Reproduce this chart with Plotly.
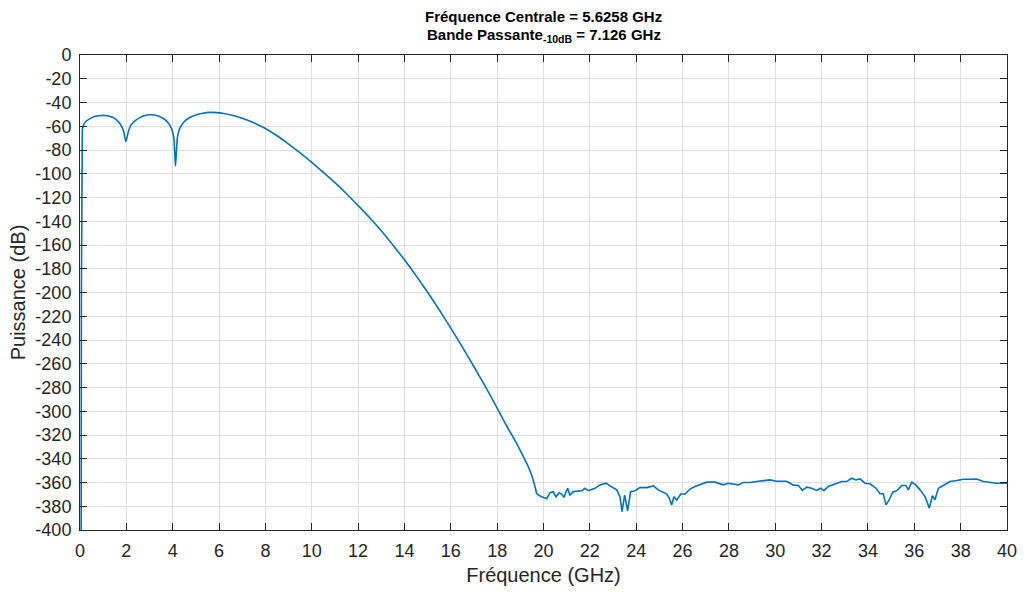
import plotly.graph_objects as go

# Frequency (GHz) and power (dB)
# rising edge at the very start of the band
freq_start = [0.04, 0.05, 0.06, 0.08, 0.1]
power_start = [-400, -400, -200, -70, -63]

# main lobe (smooth part)
freq_main = [0.1, 0.15, 0.25, 0.4, 0.6, 0.8, 1.0, 1.2, 1.4, 1.6, 1.75,
             1.88, 1.98, 2.08, 2.2, 2.4, 2.6, 2.8, 3.0, 3.2, 3.4, 3.6, 3.8, 3.95, 4.05, 4.12,
             4.2, 4.3, 4.5, 4.7, 5.0, 5.3, 5.6, 5.9, 6.2, 6.6, 7.0, 7.5, 8.0, 8.5, 9.0, 9.5,
             10.0, 10.5, 11.0, 11.5, 12.0, 12.5, 13.0, 13.5, 14.0, 14.5, 15.0, 15.5, 16.0,
             16.5, 17.0, 17.5, 18.0, 18.4, 18.84, 19.1, 19.34, 19.5, 19.6, 19.71]
power_main = [-63, -59, -56, -54, -52, -51.2, -50.8, -51.2, -52.5, -55, -58.5,
              -64, -73, -65, -59, -55, -52.5, -51, -50.3, -50.5, -51.5, -53.5, -57, -62, -70, -93.5,
              -70, -62, -56, -53, -50.5, -49, -48.3, -48.5, -49.3, -51, -53.2, -57, -61.9, -68, -75, -82.5,
              -90.5, -98.8, -107.5, -116.8, -126.8, -137, -148, -160, -172.5, -185.8, -199.8, -214.5, -230,
              -246, -262.5, -279.5, -297.3, -312, -327, -337, -346.5, -354.5, -361, -369.7]

# noise floor
freq_floor = [19.71, 19.92, 20.14, 20.28, 20.42, 20.54, 20.68, 20.78, 20.88, 21.04, 21.14, 21.29,
              21.65, 21.79, 21.93, 22.22, 22.44, 22.70, 22.87, 23.16, 23.30, 23.39, 23.50, 23.63,
              23.76, 23.95, 24.16, 24.45, 24.74, 24.95, 25.32, 25.43, 25.53, 25.63, 25.75, 25.92,
              26.11, 26.32, 26.54, 26.75, 27.04, 27.40, 27.76, 27.97, 28.41, 28.62, 28.91, 29.2,
              29.48, 29.77, 30.06, 30.49, 30.78, 31.0, 31.17, 31.36, 31.57, 31.79, 31.96, 32.1,
              32.29, 32.58, 32.87, 33.08, 33.3, 33.48, 33.66, 33.87, 34.09, 34.35, 34.52, 34.66,
              34.78, 34.92, 35.07, 35.24, 35.46, 35.64, 35.74, 35.89, 36.06, 36.25, 36.46, 36.65,
              36.78, 36.89, 37.04, 37.25, 37.54, 37.83, 38.12, 38.40, 38.69, 38.98, 39.27, 39.56, 40.0]
power_floor = [-369.7, -372, -373.6, -368.6, -367.7, -372, -368.6, -369.7, -372.5, -364.9, -370.5, -367.7,
               -367, -364.9, -366.9, -364.9, -362, -360.6, -362.9, -366.2, -372, -384.6, -370.6, -383.8,
               -367.7, -366.9, -364.3, -364.3, -362.9, -366.2, -369.7, -373.3, -378.9, -372, -374.9, -369.7,
               -369.7, -365.6, -363.4, -362, -359.7, -359.7, -362, -360.6, -362, -360, -360, -359.2,
               -358.3, -357.8, -358.9, -358.9, -362.2, -362.5, -366.7, -363.9, -364.8, -366.7, -364.8, -366.7,
               -363.4, -361.1, -359.2, -359.2, -356.4, -357.8, -357, -360.6, -361.1, -364.8, -369.5, -369.5,
               -378.8, -374.5, -368.1, -367, -362.5, -362.5, -366.2, -359.7, -362, -366.2, -371.8, -381.6,
               -371.2, -374.5, -364.8, -362.5, -359.2, -358.3, -357.2, -357.2, -357, -359.2, -360, -360.6, -360.6]

x_tick_vals = list(range(0, 41, 2))
y_tick_vals = list(range(-400, 1, 20))
y_tick_text = [str(v) for v in y_tick_vals]

title_line1 = "Fréquence Centrale = 5.6258 GHz"
title_line2 = "Bande Passante<sub>-10dB</sub> = 7.126 GHz"

line_style = dict(color="#0072BD", width=1.6)
fig = go.Figure()
fig.add_trace(go.Scatter(x=freq_start, y=power_start, mode="lines", line=line_style,
                         showlegend=False, hoverinfo="skip"))
fig.add_trace(go.Scatter(x=freq_main, y=power_main, mode="lines",
                         line=dict(shape="spline", smoothing=0.6, **line_style),
                         showlegend=False, hoverinfo="skip"))
fig.add_trace(go.Scatter(x=freq_floor, y=power_floor, mode="lines", line=line_style,
                         showlegend=False, hoverinfo="skip"))

axis_common = dict(
    showline=True, linecolor="#262626", linewidth=1, mirror="allticks",
    ticks="inside", ticklen=7, tickcolor="#262626", tickwidth=1,
    showgrid=True, gridcolor="#dfdfdf", gridwidth=1, zeroline=False, automargin=False,
    tickfont=dict(family="Liberation Sans, Arial, sans-serif", size=18, color="#262626"),
)

title_font = dict(family="Liberation Sans, Arial, sans-serif", size=15, color="#000000",
                  weight="bold")

fig.update_layout(
    width=1024, height=592,
    margin=dict(l=80, r=17, t=55, b=62),
    paper_bgcolor="white", plot_bgcolor="white",
    font=dict(family="Liberation Sans, Arial, sans-serif", color="#262626"),
    xaxis=dict(range=[0, 40], tickmode="array", tickvals=x_tick_vals,
               title=dict(text="Fréquence (GHz)", font=dict(size=20), standoff=8),
               ticklabelstandoff=4, **axis_common),
    yaxis=dict(range=[-400, 0], tickmode="array", tickvals=y_tick_vals, ticktext=y_tick_text,
               title=dict(text="Puissance (dB)", font=dict(size=20), standoff=4),
               ticklabelstandoff=4, **axis_common),
    annotations=[
        dict(text=title_line1, x=0.5, xref="paper", y=1 + (55 - 16) / 475, yref="paper",
             xanchor="center", yanchor="middle", showarrow=False, font=title_font),
        dict(text=title_line2, x=0.5, xref="paper", y=1 + (55 - 35) / 475, yref="paper",
             xanchor="center", yanchor="middle", showarrow=False, font=title_font),
    ],
)

fig.write_html("out.html")
